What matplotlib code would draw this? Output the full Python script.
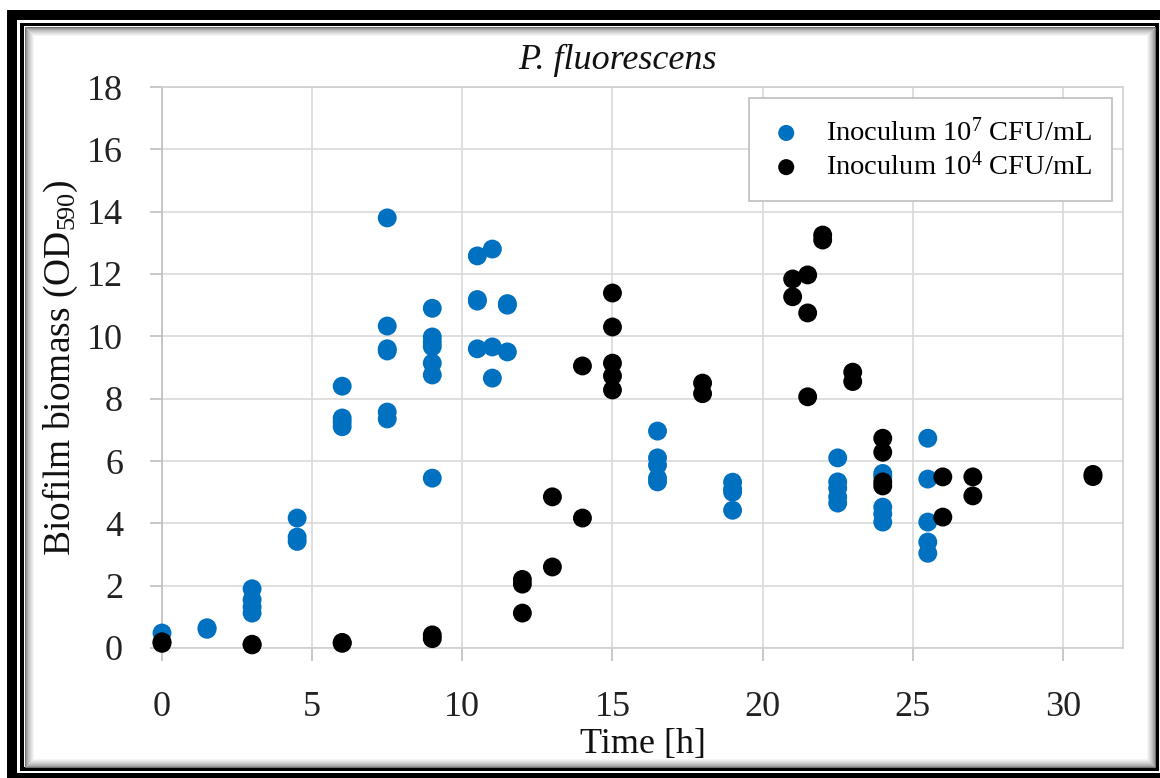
import matplotlib

matplotlib.use('Agg')
import matplotlib.pyplot as plt
from matplotlib.patches import Rectangle

plt.rcParams['font.family'] = ['Liberation Serif', 'DejaVu Serif']
plt.rcParams['mathtext.fontset'] = 'custom'
plt.rcParams['mathtext.rm'] = 'Liberation Serif'
plt.rcParams['mathtext.it'] = 'Liberation Serif:italic'

# 数据：接种量 10^7 CFU/mL（蓝色）
t_hi = [0,
        1.5, 1.5,
        3, 3, 3, 3,
        4.5, 4.5, 4.5,
        6, 6, 6, 6,
        7.5, 7.5, 7.5, 7.5, 7.5, 7.5,
        9, 9, 9, 9, 9, 9, 9,
        10.5, 10.5, 10.5, 10.5,
        11, 11, 11,
        11.5, 11.5, 11.5,
        16.5, 16.5, 16.5, 16.5, 16.5,
        19, 19, 19, 19,
        22.5, 22.5, 22.5, 22.5, 22.5,
        24, 24, 24, 24, 24,
        25.5, 25.5, 25.5, 25.5, 25.5]
od_hi = [0.48,
         0.6, 0.65,
         1.9, 1.55, 1.32, 1.12,
         4.17, 3.56, 3.42,
         8.4, 7.38, 7.25, 7.1,
         13.8, 10.33, 9.6, 9.53, 7.57, 7.35,
         10.9, 9.98, 9.82, 9.67, 9.14, 8.76, 5.45,
         12.58, 11.18, 11.13, 9.6,
         12.8, 9.66, 8.66,
         11.05, 11.0, 9.5,
         6.96, 6.1, 5.87, 5.45, 5.33,
         5.32, 5.1, 5.0, 4.42,
         6.1, 5.33, 5.13, 4.85, 4.65,
         5.6, 5.5, 4.52, 4.3, 4.04,
         6.73, 5.42, 4.04, 3.4, 3.04]

# 数据：接种量 10^4 CFU/mL（黑色）
t_lo = [0, 0,
        3, 3,
        6, 6,
        9, 9,
        12, 12, 12,
        13, 13,
        14, 14,
        15, 15, 15, 15, 15,
        18, 18,
        21, 21,
        21.5, 21.5, 21.5,
        22, 22,
        23, 23,
        24, 24, 24, 24,
        26, 26,
        27, 27,
        31, 31]
od_lo = [0.15, 0.2,
         0.1, 0.12,
         0.15, 0.18,
         0.42, 0.3,
         2.2, 2.05, 1.12,
         4.85, 2.6,
         9.05, 4.17,
         11.39, 10.3, 9.14, 8.73, 8.28,
         8.5, 8.16,
         11.84, 11.27,
         11.97, 10.75, 8.06,
         13.25, 13.09,
         8.85, 8.55,
         6.73, 6.28, 5.33, 5.2,
         5.49, 4.2,
         5.49, 4.88,
         5.57, 5.5]

W, H = 1160, 778
fig = plt.figure(figsize=(W / 100, H / 100), dpi=100)
fig.patch.set_facecolor('white')


def px_rect(x0, y0, x1, y1, **kw):
    # 像素坐标（左上为原点）转为 figure 坐标
    return Rectangle((x0 / W, 1 - y1 / H), (x1 - x0) / W, (y1 - y0) / H,
                     transform=fig.transFigure, **kw)


# 外框：粗黑边 + 细黑边 + 内阴影
for r in [(7, 10, 17, H), (7, 10, W, 20), (7, 773, W, H)]:
    fig.add_artist(px_rect(*r, facecolor='black', edgecolor='none'))
for r in [(20, 23, 24, 771), (20, 23, 1159, 26), (1155, 23, 1159, 771), (20, 767, 1159, 771)]:
    fig.add_artist(px_rect(*r, facecolor='black', edgecolor='none'))
for i in range(10):
    g = 0.45 + 0.55 * (i / 9) ** 0.6
    fig.add_artist(px_rect(24 + i + 0.5, 26 + i + 0.5, 1155 - i - 0.5, 767 - i - 0.5,
                           fill=False, edgecolor=(g, g, g), linewidth=0.72))

ax = fig.add_axes([162 / W, 1 - 648 / H, (1123 - 162) / W, (648 - 87) / H])
ax.set_xlim(0, 32)
ax.set_ylim(0, 18)
ax.set_xticks(range(0, 31, 5))
ax.set_yticks(range(0, 19, 2))
ax.grid(True, color='#d9d9d9', linewidth=1.2)
ax.set_axisbelow(True)
for s in ax.spines.values():
    s.set_color('#d0d0d0')
    s.set_linewidth(1.2)
ax.spines['left'].set_color('#bfbfbf')
ax.tick_params(axis='both', direction='out', length=9, width=1.2, color='#bfbfbf',
               labelsize=26, labelcolor='#222222')
ax.tick_params(axis='x', pad=22)
ax.tick_params(axis='y', pad=19)

ax.scatter(t_hi, od_hi, s=185, color='#0070C0', edgecolors='none', clip_on=False,
           zorder=3, label='Inoculum 10$^{7}$ CFU/mL')
ax.scatter(t_lo, od_lo, s=185, color='black', edgecolors='none', clip_on=False,
           zorder=4, label='Inoculum 10$^{4}$ CFU/mL')

ax.set_xlabel('Time [h]', fontsize=26, color='#111111', labelpad=3)
ax.set_ylabel('Biofilm biomass (OD$_{590}$)', fontsize=27, color='#111111', labelpad=5)
fig.text(617 / W, 1 - 69 / H, 'P. fluorescens', fontsize=26, style='italic',
         ha='center', va='baseline', color='#111111')

leg = ax.legend(loc='upper right', bbox_to_anchor=(1112 / W, 1 - 98 / H),
                bbox_transform=fig.transFigure, borderaxespad=0, fancybox=False,
                framealpha=1, edgecolor='#bfbfbf', fontsize=20.5, markerscale=0.85,
                handletextpad=0.8, labelspacing=0.2, borderpad=0.7, handlelength=1.2)
leg.get_frame().set_linewidth(1.2)

plt.savefig('out.png', dpi=100)
plt.close()
